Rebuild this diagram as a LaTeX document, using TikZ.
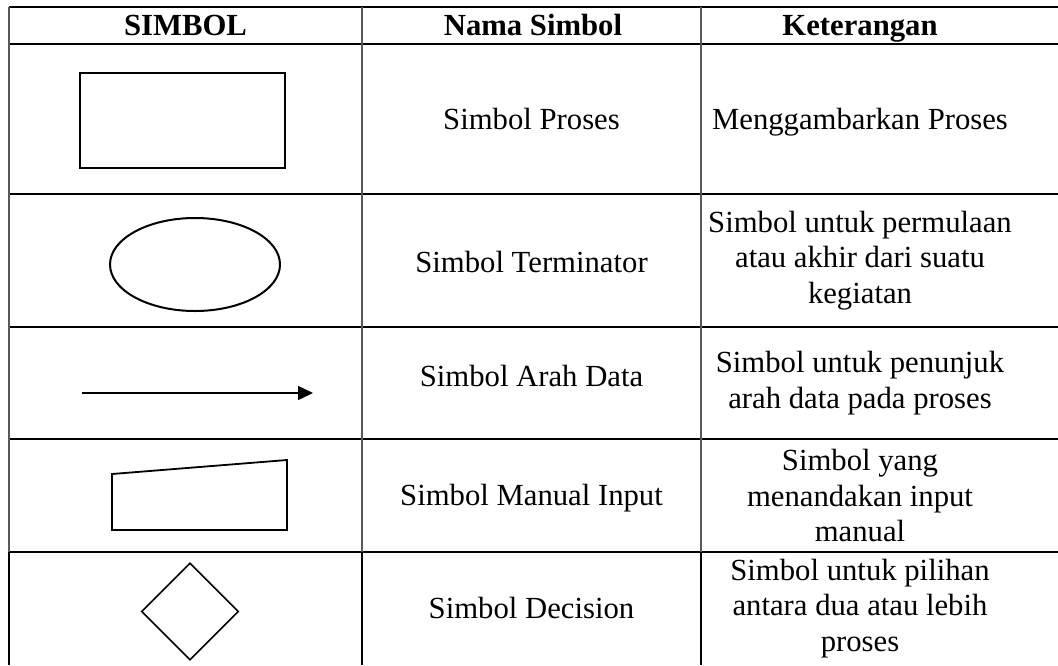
\documentclass[tikz,border=0pt]{standalone}
\usepackage{fontspec}
\setmainfont{Liberation Serif}
\usetikzlibrary{shapes.geometric,arrows.meta}

\tikzset{
  sel/.style={align=center, inner sep=0pt, font=\fontsize{30.7}{35.5}\selectfont},
  satu/.style={sel, text height=24pt, text depth=4pt},
  judul/.style={satu, font=\fontsize{30.7}{35.5}\selectfont\bfseries},
  simbol/.style={draw, line width=2pt, inner sep=0pt},
  garis/.style={line width=1.2pt},
  garisabu/.style={line width=1.2pt, gray!70!black},
}

\begin{document}
\begin{tikzpicture}[x=1pt,y=-1pt]
    \useasboundingbox (0,0) rectangle (1058,665);

    % Gambar garis tabel
    \draw[garis] (9,7) -- (1058,7);
    \draw[garis] (9,44) -- (1058,44);
    \draw[garis] (9,194) -- (1058,194);
    \draw[garis] (9,327) -- (1058,327);
    \draw[garis] (9,439) -- (1058,439);
    \draw[line width=2.2pt] (9,552) -- (1058,552);
    \draw[garisabu] (9,7) -- (9,552);
    \draw[garisabu] (362,7) -- (362,552);
    \draw[garisabu] (701,7) -- (701,552);
    \draw[garis] (9,552) -- (9,665);
    \draw[garis] (362,552) -- (362,665);
    \draw[garis] (701,552) -- (701,665);

    % Gambar judul kolom
    \node[judul] (jsimbol) at (185.5,25.5) {SIMBOL};
    \node[judul] (jnama) at (533,25.5) {Nama Simbol};
    \node[judul] (jket) at (860,25.5) {Keterangan};

    % Gambar simbol pada kolom pertama
    \node[simbol, rectangle, minimum width=205pt, minimum height=95pt] (proses) at (182.5,120.5) {};
    \node[simbol, ellipse, minimum width=170pt, minimum height=93pt] (terminator) at (195,264.5) {};
    \coordinate (arahA) at (82,393);
    \coordinate (arahB) at (313,393);
    \draw[line width=1.5pt,-{Triangle[length=15pt,width=14pt]}] (arahA) -- (arahB);
    \draw[line width=1.8pt,line join=miter] (112,474) -- (287,460) -- (287,530) -- (112,530) -- cycle;
    \node[simbol, diamond, aspect=1, line width=1.6pt, minimum width=97pt, minimum height=97pt] (decision) at (190,611.5) {};

    % Gambar nama simbol
    \node[satu] (nproses) at (531.5,119) {Simbol Proses};
    \node[satu] (nterminator) at (531.5,262) {Simbol Terminator};
    \node[satu] (narah) at (531.5,376) {Simbol Arah Data};
    \node[satu] (nmanual) at (531.5,495.5) {Simbol Manual Input};
    \node[satu] (ndecision) at (531.5,608.5) {Simbol Decision};

    % Gambar keterangan
    \node[satu] (kproses) at (860,119) {Menggambarkan Proses};
    \node[sel] (kterminator) at (860,260.5) {Simbol untuk permulaan\\atau akhir dari suatu\\kegiatan};
    \node[sel] (karah) at (860,383) {Simbol untuk penunjuk\\arah data pada proses};
    \node[sel] (kmanual) at (860,495.5) {Simbol yang\\menandakan input\\manual};
    \node[sel] (kdecision) at (860,608.5) {Simbol untuk pilihan\\antara dua atau lebih\\proses};

\end{tikzpicture}
\end{document}
